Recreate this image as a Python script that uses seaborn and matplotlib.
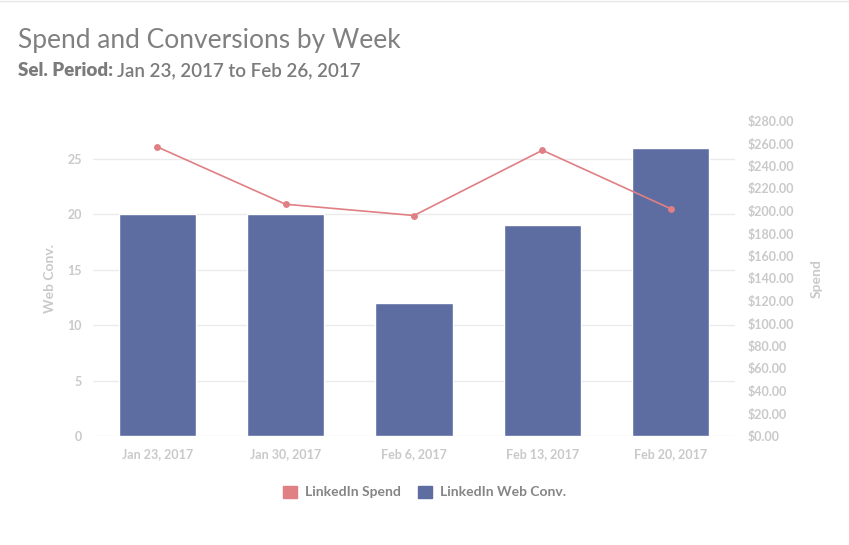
import matplotlib
matplotlib.use("Agg")
import matplotlib.pyplot as plt
import matplotlib.ticker as mticker
from matplotlib.patches import Patch
from matplotlib.lines import Line2D
import seaborn as sns
import pandas as pd

# Data
weeks = ["Jan 23, 2017", "Jan 30, 2017", "Feb 6, 2017", "Feb 13, 2017", "Feb 20, 2017"]
web_conv = [20, 20, 12, 19, 26]
spend = [257, 206, 196, 254, 202]
spend_ticks = list(range(0, 281, 20))

df = pd.DataFrame({"week": weeks, "conv": web_conv, "spend": spend})

bar_color = "#5e6da1"
line_color = "#e07f84"
tick_color = "#c9c9c9"
text_color = "#7b7b7b"

sns.set_style("white")
plt.rcParams["font.family"] = ["Lato", "DejaVu Sans"]

fig = plt.figure(figsize=(8.49, 5.45), dpi=100)
ax = fig.add_axes([93 / 849, 1 - 436 / 545, (735 - 93) / 849, (436 - 121) / 545])

sns.barplot(data=df, x="week", y="conv", color=bar_color, width=0.6,
            saturation=1, ax=ax, zorder=2)
ax.set_ylim(0, 28.4)
ax.set_yticks([0, 5, 10, 15, 20, 25])
ax.grid(axis="y", color="#ebebeb", linewidth=1, zorder=0)
ax.set_axisbelow(True)
ax.set_xlabel("")
ax.set_ylabel("Web Conv.", color=tick_color, fontsize=10, fontweight="bold", labelpad=8)

ax2 = ax.twinx()
sns.pointplot(data=df, x="week", y="spend", color=line_color, ax=ax2,
              markersize=4, linewidth=1.2)
ax2.set_ylim(0, 280)
ax2.set_yticks(spend_ticks)
ax2.yaxis.set_major_formatter(mticker.FuncFormatter(lambda v, p: f"${v:,.2f}"))
ax2.set_ylabel("Spend", color=tick_color, fontsize=10, fontweight="bold", labelpad=12)
ax2.set_xlim(-0.5, 4.5)
ax.set_xlim(-0.5, 4.5)

for a in (ax, ax2):
    for s in a.spines.values():
        s.set_visible(False)
    a.tick_params(length=0, colors=tick_color, labelsize=9)
    for lab in a.get_xticklabels() + a.get_yticklabels():
        lab.set_fontweight("bold")
ax.tick_params(axis="x", pad=9)
ax.tick_params(axis="y", pad=8)
ax2.tick_params(axis="y", pad=9)

# Titles
fig.text(18 / 849, 1 - 48 / 545, "Spend and Conversions by Week", fontsize=19,
         color="#808080", ha="left", va="baseline")
t1 = fig.text(18 / 849, 1 - 76 / 545, "Sel. Period:", fontsize=13.5, fontweight="heavy",
              color=text_color, ha="left", va="baseline")
fig.canvas.draw()
bb = t1.get_window_extent(fig.canvas.get_renderer())
fig.text((bb.x1 + 4) / 849, 1 - 76 / 545, "Jan 23, 2017 to Feb 26, 2017", fontsize=13.5,
         fontweight="semibold", color=text_color, ha="left", va="baseline")

# top border
fig.add_artist(Line2D([0, 1], [1 - 1 / 545, 1 - 1 / 545], color="#e6e6e6", linewidth=1))

handles = [Patch(color=line_color, label="LinkedIn Spend"),
           Patch(color=bar_color, label="LinkedIn Web Conv.")]
leg = fig.legend(handles=handles, loc="center", bbox_to_anchor=(0.5, 1 - 492 / 545),
                 ncol=2, frameon=False, handlelength=1, handleheight=1,
                 handletextpad=0.6, columnspacing=1.2, fontsize=10)
for t in leg.get_texts():
    t.set_color("#858585")
    t.set_fontweight("bold")

fig.savefig("out.png", dpi=100)
